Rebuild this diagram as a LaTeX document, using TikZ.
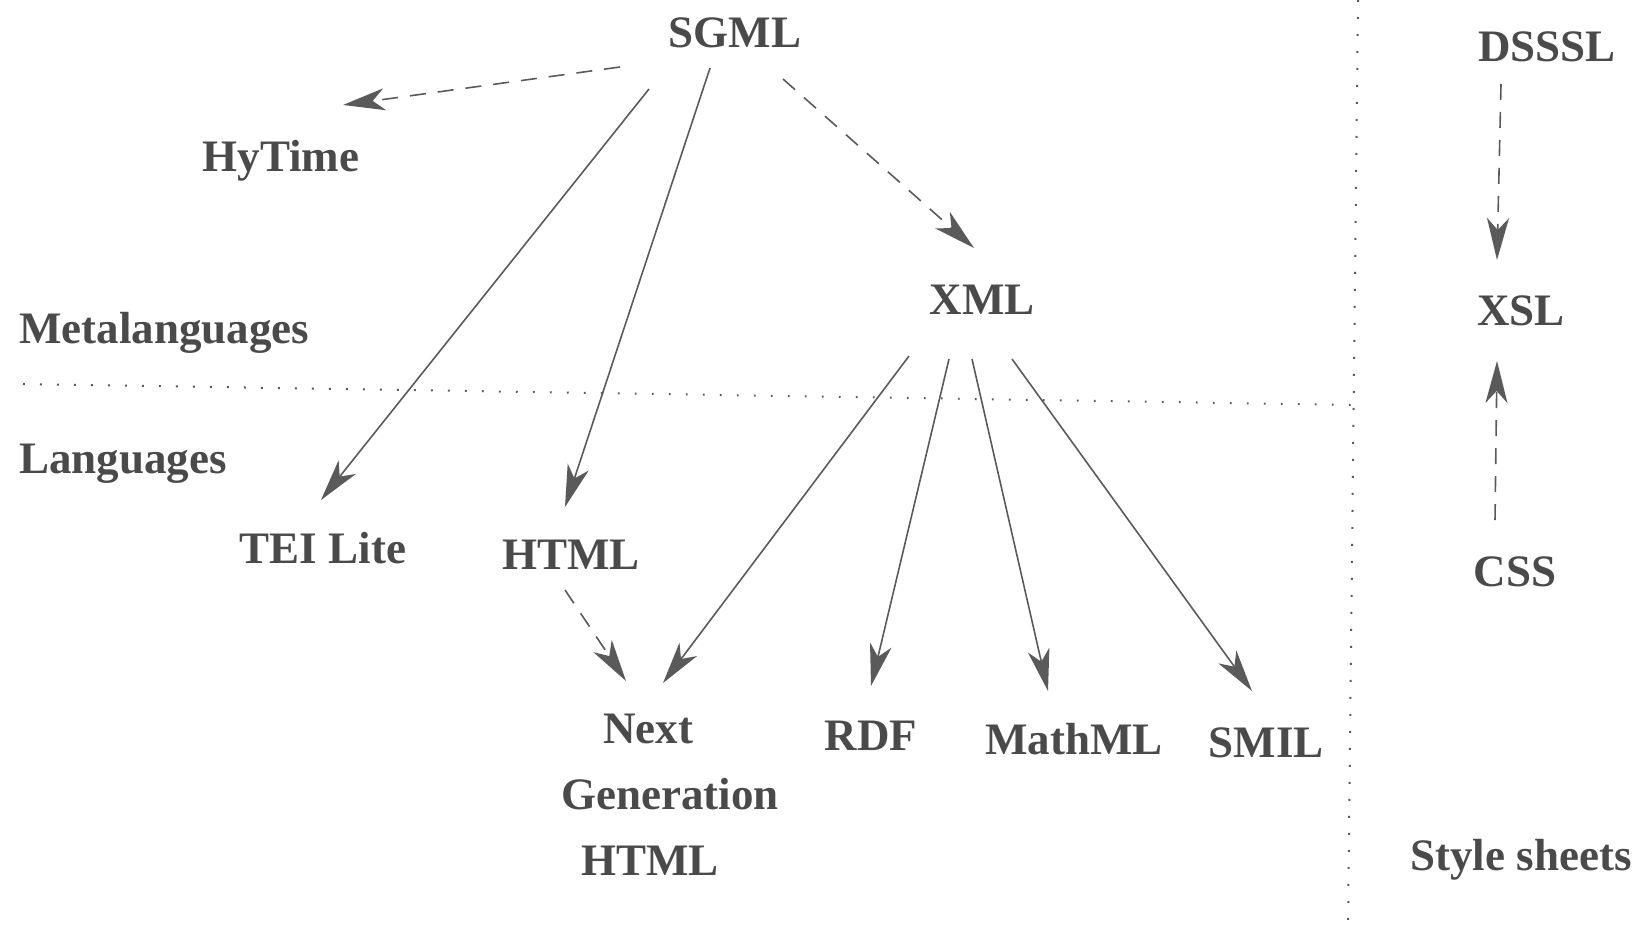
\documentclass[tikz,border=0pt]{standalone}
\usepackage{fontspec}
\setmainfont{Liberation Serif}
\usetikzlibrary{arrows.meta}
\definecolor{ink}{HTML}{4A4A4A}
\definecolor{wire}{HTML}{5A5A5A}
\tikzset{
  lbl/.style={inner sep=0pt, anchor=base, text=ink, font=\bfseries\fontsize{22.5}{33}\selectfont},
  lbll/.style={lbl, anchor=base west},
  conn/.style={draw=wire, line width=0.8pt, -{Stealth[length=21pt, width=11pt, inset=6pt]}},
  dconn/.style={conn, dash pattern=on 8pt off 6pt},
  divider/.style={draw=wire, line width=1pt, dash pattern=on 0.9pt off 7.6pt},
}
\begin{document}
\begin{tikzpicture}[x=0.5pt, y=-0.5pt]
\useasboundingbox (0,0) rectangle (1642,926);
% nodes
\node[lbl] (sgml) at (735,47) {SGML};
\node[lbl] (hytime) at (281,171) {HyTime};
\node[lbl] (dsssl) at (1547,61) {DSSSL};
\node[lbl] (xml) at (982,314) {XML};
\node[lbl] (xsl) at (1521,325) {XSL};
\node[lbll] (meta) at (19,343) {Metalanguages};
\node[lbll] (lang) at (19,473) {Languages};
\node[lbl] (tei) at (323,563) {TEI Lite};
\node[lbl] (html) at (571,569) {HTML};
\node[lbl] (css) at (1515,586) {CSS};
\node[lbl, align=center] (ngh) at (670,875) {Next\kern22pt\\Generation\\HTML\kern20pt};
\node[lbl] (rdf) at (871,750) {RDF};
\node[lbl] (mathml) at (1074,754) {MathML};
\node[lbl] (smil) at (1266,757) {SMIL};
\node[lbl] (style) at (1521,870) {Style sheets};
% dividers
\coordinate (hl) at (23,384);
\coordinate (hr) at (1356,405);
\coordinate (vt) at (1358,0);
\coordinate (vb) at (1348,926);
\draw[divider] (hl) -- (hr);
\draw[divider] (vt) -- (vb);
% connector end points
\coordinate (sgml-hy) at (620,67);   \coordinate (hy-in) at (343,105);
\coordinate (sgml-tei) at (649,89);  \coordinate (tei-in) at (321,500);
\coordinate (sgml-html) at (710,68); \coordinate (html-in) at (565,507);
\coordinate (sgml-xml) at (783,79);  \coordinate (xml-in) at (974,248);
\coordinate (xml-ngh) at (909,356);  \coordinate (ngh-in1) at (663,683);
\coordinate (xml-rdf) at (949,359);  \coordinate (rdf-in) at (871,686);
\coordinate (xml-math) at (972,359); \coordinate (math-in) at (1048,691);
\coordinate (xml-smil) at (1012,359);\coordinate (smil-in) at (1252,691);
\coordinate (html-ngh) at (565,590); \coordinate (ngh-in2) at (626,681);
\coordinate (dsssl-xsl) at (1501,84);\coordinate (xsl-in1) at (1497,260);
\coordinate (css-xsl) at (1495,520); \coordinate (xsl-in2) at (1497,361);
% connectors
\draw[dconn] (sgml-hy) -- (hy-in);
\draw[conn] (sgml-tei) -- (tei-in);
\draw[conn] (sgml-html) -- (html-in);
\draw[dconn] (sgml-xml) -- (xml-in);
\draw[conn] (xml-ngh) -- (ngh-in1);
\draw[conn] (xml-rdf) -- (rdf-in);
\draw[conn] (xml-math) -- (math-in);
\draw[conn] (xml-smil) -- (smil-in);
\draw[dconn] (html-ngh) -- (ngh-in2);
\draw[dconn] (dsssl-xsl) -- (xsl-in1);
\draw[dconn] (css-xsl) -- (xsl-in2);
\end{tikzpicture}
\end{document}
